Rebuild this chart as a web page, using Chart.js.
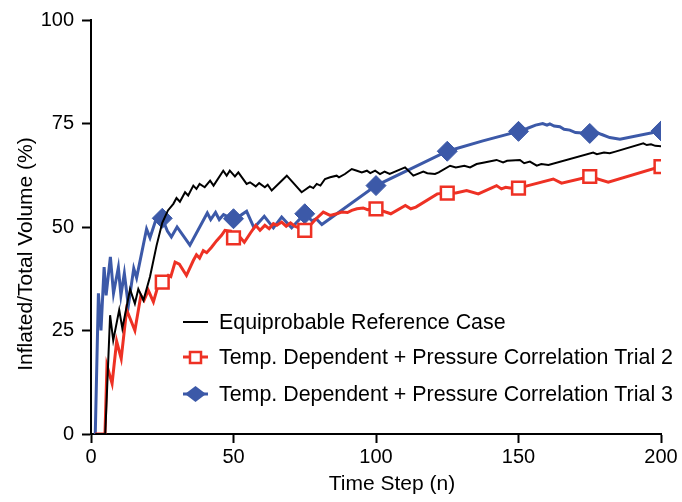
<!DOCTYPE html>
<html>
<head>
<meta charset="utf-8">
<script src="https://cdn.jsdelivr.net/npm/chart.js@4.4.1/dist/chart.umd.min.js"></script>
<style>
  html, body { margin: 0; padding: 0; background: #fff; }
  #wrap { width: 682px; height: 502px; }
</style>
</head>
<body>
<div id="wrap"><canvas id="chart" width="682" height="502"></canvas></div>
<script>
// tick labels
const xTicks = [0, 50, 100, 150, 200];
const yTicks = [0, 25, 50, 75, 100];
const markerSteps = [25, 50, 75, 100, 125, 150, 175, 200];

const seriesNames = [
  "Equiprobable Reference Case",
  "Temp. Dependent + Pressure Correlation Trial 2",
  "Temp. Dependent + Pressure Correlation Trial 3"
];

// Equiprobable reference case
const refSteps = [1.5, 5, 6.7, 7.8, 9.9, 11, 13.7, 15.4, 16.6, 18.4, 20.7, 23, 25, 27, 28.9, 30, 31.2, 33, 34.1, 35.9, 37, 38.1, 39.9, 41.8, 43, 46.4, 47.6, 48.7, 50.5, 51.7, 54.6, 55.8, 57.8, 59, 61, 62, 63.4, 68.7, 73.9, 76.8, 78, 79.2, 80.5, 82.1, 83.9, 86.2, 87, 89.1, 91.5, 93.3, 95, 96.8, 98, 99.7, 101.4, 103, 104.8, 110.2, 113.1, 116.6, 118, 120.7, 122, 126, 128, 131, 133, 135.3, 138, 142.3, 144.6, 146, 150.5, 152, 154, 156.4, 158, 160.5, 176.2, 177.5, 180, 182, 184, 193.8, 195, 196.5, 198, 200.2];
const refValues = [0, 0, 28.7, 22.6, 30, 25.5, 35, 31.5, 35, 32.3, 38, 45.5, 51, 54, 55.6, 57, 56.1, 58.4, 57.6, 60, 59.2, 60.4, 59.6, 61.2, 60, 63.6, 62.4, 63.6, 62.2, 63.2, 60.4, 60.8, 59.8, 60.6, 59.6, 60.2, 58.8, 62.4, 58.4, 59.8, 59.4, 60.4, 60, 61.6, 62, 62.4, 62, 62.8, 64, 63.6, 63.2, 63.6, 63, 63.6, 62.8, 63.4, 62.8, 64.4, 62.4, 63.4, 63, 62.8, 63.2, 64.8, 64.4, 64.8, 64.4, 65.2, 65.6, 66.2, 65.6, 66, 66.2, 65.4, 65.8, 64.8, 65.2, 65, 68, 67.6, 68, 67.8, 68.2, 70.2, 69.8, 70, 69.6, 69.5];

// Trial 2
const trial2Steps = [1.5, 4.9, 5.6, 7.4, 9, 10.6, 12.5, 15.4, 17.5, 18.6, 20.1, 21.9, 23.6, 25, 27.1, 28, 29.5, 31, 33.5, 35.9, 37, 38.1, 39.4, 40.6, 42.3, 44.1, 45.8, 47, 49, 50, 51.5, 53.8, 56, 57.8, 59.3, 61, 62.5, 64, 65.2, 66.9, 68.5, 70, 71.5, 75, 77, 79, 81.5, 83.9, 86.2, 88, 90, 91.5, 93.3, 95.5, 97, 100, 105.2, 110.3, 112.2, 114, 121.5, 125, 128, 131.8, 135.9, 142.3, 144, 145.5, 147, 150, 162.2, 165.1, 175, 181.5, 200];
const trial2Values = [0, 0, 16.5, 12.2, 22.4, 18.2, 30, 25, 33.5, 32.3, 34.7, 31.9, 36, 36.7, 38.3, 38, 41.5, 41, 38.3, 41.9, 43.3, 42.5, 44.3, 43.8, 45.1, 46.7, 48, 49.2, 49, 47.4, 48.2, 46.3, 48.6, 50.4, 49.2, 50.4, 49.6, 50.8, 50.4, 51.2, 50.2, 51, 50.2, 49.2, 50.5, 52, 53.6, 52.8, 53.2, 53.6, 53.5, 54, 54.4, 54.6, 54.2, 54.4, 53.2, 55.2, 54.4, 54.8, 58, 58.2, 58.2, 58.8, 58, 60, 59.2, 59.6, 59.4, 59.4, 61.6, 60.6, 62.2, 60.8, 64.6];

// Trial 3
const trial3Steps = [1.5, 2.6, 3.5, 4.6, 5.3, 6.8, 7.9, 9.6, 10.5, 11.7, 13.1, 15, 16, 19.5, 20.7, 22.5, 25, 26.8, 28.2, 30.2, 34.7, 40.8, 42, 43.7, 45, 46.5, 48, 50, 52.9, 54.6, 57.2, 60.8, 64, 66.9, 70.4, 75, 77.5, 79, 81, 100, 112, 125, 137.5, 150, 153, 156, 158.5, 160, 161, 162.5, 164.5, 166, 168, 170, 172.5, 175, 177, 179, 182, 185.6, 200];
const trial3Values = [0, 34, 25, 40.3, 33.5, 42.8, 34, 40.2, 33.5, 38.8, 31, 40, 37.7, 49.5, 47.4, 51.2, 52.1, 49, 47.6, 50, 45.6, 53.4, 51.8, 53.5, 51.8, 53, 52.5, 52, 53, 53.8, 49.8, 52.6, 49.8, 52.4, 49.8, 53.2, 51.5, 52, 50.6, 60, 64, 68.3, 70.8, 73.1, 73.8, 74.6, 75, 74.6, 74.9, 74.4, 74.2, 73.6, 73.4, 72.8, 72.7, 72.6, 73, 72.4, 71.6, 71.2, 73.2];

const black = "#000000";
const red = "#EE3124";
const blue = "#3C59A8";
const fontFamily = "'Liberation Sans', Arial, Helvetica, sans-serif";

function toPoints(xs, ys) {
  return xs.map((x, i) => ({ x: x, y: ys[i] }));
}
function markerRadius(r) {
  return ctx => (ctx.raw && markerSteps.includes(ctx.raw.x)) ? r : 0;
}

// titles and the legend sit at fixed spots, like in the figure
const annotate = {
  id: 'annotate',
  afterDraw(chart) {
    const c = chart.ctx;
    c.save();
    c.fillStyle = '#000';
    c.font = '21px ' + fontFamily;
    c.textAlign = 'center';
    c.textBaseline = 'middle';
    c.fillText('Time Step (n)', 392, 484);
    c.translate(26, 254);
    c.rotate(-Math.PI / 2);
    c.fillText('Inflated/Total Volume (%)', 0, 0);
    c.restore();

    const rows = [322, 357, 394];
    const cols = [black, red, blue];
    c.save();
    c.font = '21.4px ' + fontFamily;
    c.textBaseline = 'middle';
    c.textAlign = 'left';
    rows.forEach((y, i) => {
      c.strokeStyle = cols[i];
      c.lineWidth = i === 0 ? 2 : 3;
      c.beginPath();
      c.moveTo(183, y);
      c.lineTo(208, y);
      c.stroke();
      if (i === 1) {
        c.fillStyle = '#fff';
        c.fillRect(190, y - 5, 11, 11);
        c.lineWidth = 2.5;
        c.strokeRect(190, y - 5, 11, 11);
      }
      if (i === 2) {
        c.fillStyle = blue;
        c.beginPath();
        c.moveTo(185, y);
        c.lineTo(195.5, y - 8);
        c.lineTo(206, y);
        c.lineTo(195.5, y + 8);
        c.closePath();
        c.fill();
      }
      c.fillStyle = '#000';
      c.fillText(seriesNames[i], 219, y + 1);
    });
    c.restore();
  }
};

const axisCommon = {
  type: 'linear',
  grid: { drawOnChartArea: false, drawTicks: true, tickLength: 9, tickColor: '#000', tickWidth: 2 },
  border: { display: true, color: '#000', width: 2 },
  ticks: { color: '#000', font: { size: 20, family: fontFamily } }
};

new Chart(document.getElementById('chart').getContext('2d'), {
  type: 'line',
  data: {
    datasets: [
      {
        label: seriesNames[0],
        data: toPoints(refSteps, refValues),
        borderColor: black,
        borderWidth: 2,
        pointRadius: 0,
        tension: 0
      },
      {
        label: seriesNames[1],
        data: toPoints(trial2Steps, trial2Values),
        borderColor: red,
        borderWidth: 3,
        pointStyle: 'rect',
        pointRadius: markerRadius(9),
        pointHoverRadius: 0,
        pointBackgroundColor: '#fff',
        pointBorderColor: red,
        pointBorderWidth: 2.5,
        tension: 0
      },
      {
        label: seriesNames[2],
        data: toPoints(trial3Steps, trial3Values),
        borderColor: blue,
        borderWidth: 3,
        pointStyle: 'rectRot',
        pointRadius: markerRadius(10),
        pointHoverRadius: 0,
        pointBackgroundColor: blue,
        pointBorderColor: blue,
        pointBorderWidth: 1,
        tension: 0
      }
    ]
  },
  options: {
    responsive: false,
    animation: false,
    events: [],
    layout: { padding: { top: 19, right: 21, left: 0, bottom: 0 } },
    plugins: { legend: { display: false }, tooltip: { enabled: false } },
    scales: {
      x: Object.assign({}, axisCommon, {
        min: 0, max: 200,
        afterBuildTicks: s => { s.ticks = xTicks.map(v => ({ value: v })); },
        afterFit: s => { s.height = 68; },
        ticks: Object.assign({}, axisCommon.ticks, { padding: 2, maxRotation: 0 })
      }),
      y: Object.assign({}, axisCommon, {
        min: 0, max: 100,
        afterBuildTicks: s => { s.ticks = yTicks.map(v => ({ value: v })); },
        afterFit: s => { s.width = 91; },
        ticks: Object.assign({}, axisCommon.ticks, { padding: 8 })
      })
    }
  },
  plugins: [annotate]
});
</script>
</body>
</html>
